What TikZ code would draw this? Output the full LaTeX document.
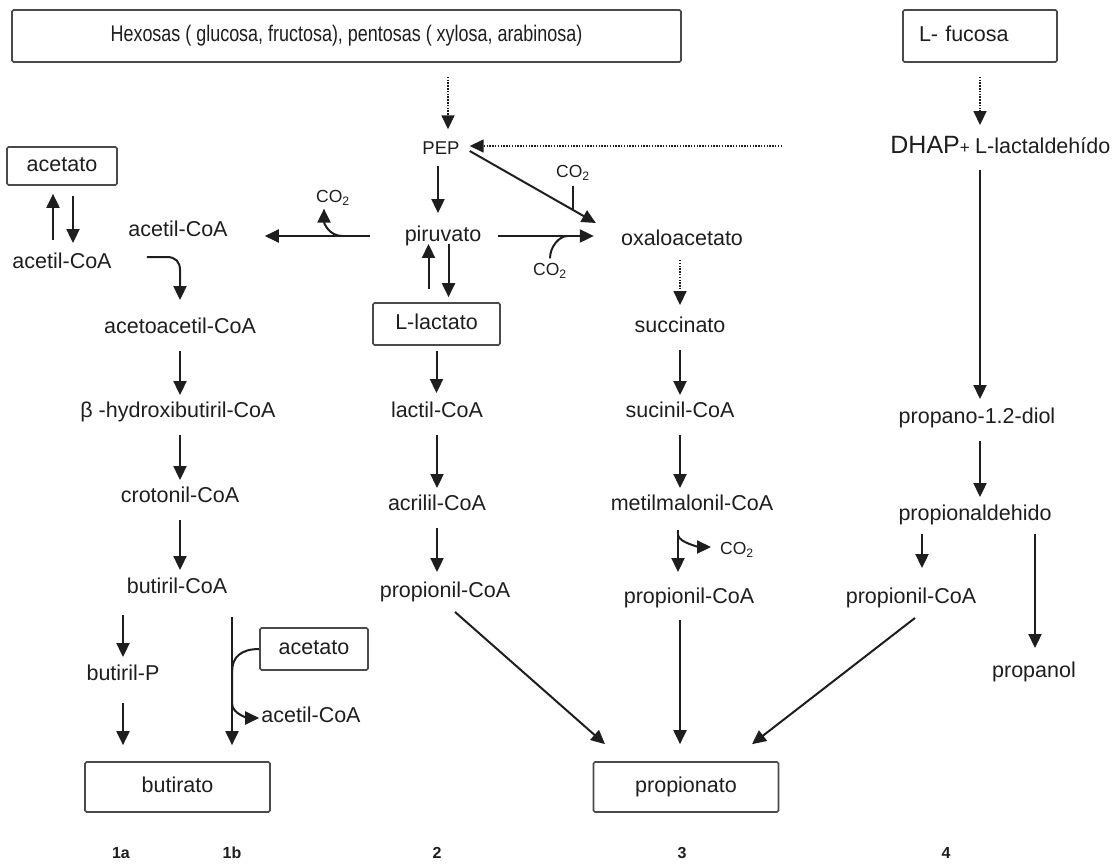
\documentclass[tikz,border=0pt]{standalone}
\usepackage{fontspec}
\setmainfont{Liberation Sans}
\usetikzlibrary{arrows.meta,calc}
\definecolor{ink}{HTML}{1E1E1E}
\definecolor{frame}{HTML}{4A4A4A}
\newcommand\bodyfont{\fontsize{21.5}{25}\selectfont}
\newcommand\cotwo{CO\textsubscript{2}}
\begin{document}
\begin{tikzpicture}[x=1pt,y=-1pt,
  every node/.style={text=ink},
  lbl/.style={font=\bodyfont, inner sep=0pt, text height=15pt, text depth=4.5pt},
  molbox/.style={lbl, draw=frame, line width=1.7pt, rounded corners=1.5pt, fill=white},
  co2/.style={font=\fontsize{17.5}{20}\selectfont, inner sep=0pt},
  arr/.style={draw=ink, line width=2pt, -{Triangle[length=14pt,width=13pt]}},
  dotarr/.style={arr, line width=1.6pt, dash pattern=on 1.5pt off 1.3pt},
  link/.style={draw=ink, line width=2pt},
  colnum/.style={font=\fontsize{16}{18}\selectfont\bfseries, inner sep=0pt}
]
\useasboundingbox (0,0) rectangle (1118,863);

% ---- sources
\node[molbox, minimum width=669pt, minimum height=52pt, font=\fontsize{18.5}{22}\selectfont] (hex) at (346.5,36)
  {\scalebox{0.97}[1.22]{Hexosas ( glucosa, fructosa), pentosas ( xylosa, arabinosa)}};
\node[molbox, minimum width=154pt, minimum height=52pt, text width=122pt, align=left] (fuc) at (980,36) {L- fucosa};

% ---- central intermediates
\node[lbl, font=\fontsize{18.5}{20}\selectfont, text height=13pt, text depth=0pt] (pep) at (441,148) {PEP};
\node[lbl, anchor=west] (lal) at (975,148) {L-lactaldehído};
\node[lbl, anchor=east] (dhap) at ([xshift=-5pt]lal.west) {{\fontsize{25}{30}\selectfont DHAP}{\fontsize{17}{20}\selectfont +}};
\node[lbl] (piru) at (443,236) {piruvato};
\node[lbl] (oxa) at (682,240) {oxaloacetato};

% ---- butyrate route (1a, 1b)
\node[molbox, minimum width=110pt, minimum height=38pt] (ace1) at (62,166) {acetato};
\node[lbl] (acoaL) at (62,263) {acetil-CoA};
\node[lbl] (acoaR) at (178,231) {acetil-CoA};
\node[lbl] (acac) at (180,328) {acetoacetil-CoA};
\node[lbl] (bhb) at (178,412) {β -hydroxibutiril-CoA};
\node[lbl] (crot) at (180,497) {crotonil-CoA};
\node[lbl] (buco) at (177,588) {butiril-CoA};
\node[lbl] (butp) at (123,675) {butiril-P};
\node[molbox, minimum width=108pt, minimum height=42pt] (ace2) at (314,649) {acetato};
\node[lbl] (acoaB) at (311,717) {acetil-CoA};
\node[molbox, minimum width=185pt, minimum height=50pt] (but) at (177.5,787) {butirato};

% ---- acrylate route (2)
\node[molbox, minimum width=127pt, minimum height=42pt] (llac) at (436.5,324) {L-lactato};
\node[lbl] (lacoa) at (437,412) {lactil-CoA};
\node[lbl] (acril) at (437,505) {acrilil-CoA};
\node[lbl] (prop2) at (445,592) {propionil-CoA};

% ---- succinate route (3)
\node[lbl] (succ) at (680,327) {succinato};
\node[lbl] (sucoa) at (680,412) {sucinil-CoA};
\node[lbl] (metm) at (692,505) {metilmalonil-CoA};
\node[lbl] (prop3) at (689,598) {propionil-CoA};
\node[molbox, minimum width=185pt, minimum height=50pt] (pnato) at (686,787) {propionato};

% ---- propanediol route (4)
\node[lbl] (diol) at (977,418) {propano-1.2-diol};
\node[lbl] (pald) at (975,515) {propionaldehido};
\node[lbl] (prop4) at (911,598) {propionil-CoA};
\node[lbl] (pnol) at (1034,672) {propanol};

% ---- CO2
\node[co2] (co2a) at (333,198) {\cotwo};
\node[co2] (co2b) at (573,173) {\cotwo};
\node[co2] (co2c) at (550,271) {\cotwo};
\node[co2] (co2d) at (737,550) {\cotwo};

% ---- route numbers
\node[colnum] (n1a) at (121,853) {1a};
\node[colnum] (n1b) at (232,853) {1b};
\node[colnum] (n2) at (437,853) {2};
\node[colnum] (n3) at (682,853) {3};
\node[colnum] (n4) at (946,853) {4};

% ---- free ends
\coordinate (dsrc) at (782,146);
\coordinate (c1b) at (232,617);

% ---- connectors: top
\draw[dotarr] ($(hex.south -| pep)+(7,14)$) -- ($(pep.north)+(7,-12)$);
\draw[dotarr] ($(fuc.south)+(0,14)$) -- ($(lal.north -| fuc.south)+(0,-13)$);
\draw[dotarr] (dsrc) -- ($(dsrc -| pep.east)+(10,0)$);
\draw[arr] ($(lal.south -| fuc.south)+(0,12)$) -- ($(diol.north -| fuc.south)+(0,-9)$);

% PEP / pyruvate / oxaloacetate
\draw[arr] ($(pep.south)+(-3,11)$) -- ($(piru.north -| pep.south)+(-3,-13)$);
\draw[arr] ($(pep.east)+(10,3)$) -- ($(oxa.west)+(-25,-17)$);
\draw[link] ($(co2b.south)+(0,5)$) -- ++(0,24);
\draw[arr] ($(piru.east)+(17,0)$) -- ($(oxa.west |- piru.east)+(-27,0)$);
\draw[link] ($(co2c.north)+(0,-5)$) .. controls +(0,-12) and +(-8,0) .. ($(piru.east)+(86,0)$);
\draw[arr] ($(piru.west)+(-35,0)$) -- ($(acoaR.east |- piru.west)+(37,0)$);
\draw[arr] ($(piru.west)+(-62,0)$) .. controls +(-14,0) and +(0,14) .. ($(co2a.south)+(-9,3)$);

% route 1
\draw[arr] ($(acoaL.north -| ace1.south)+(-9,-13)$) -- ($(ace1.south)+(-9,8)$);
\draw[arr] ($(ace1.south)+(11,10)$) -- ($(acoaL.north -| ace1.south)+(11,-10)$);
\draw[arr] ($(acoaL.east)+(35,-6)$) -- ++(20,0) .. controls +(9,0) and +(0,-8) .. ($(acac.north)+(0,-48)$) -- ($(acac.north)+(0,-18)$);
\draw[arr] ($(acac.south)+(0,13)$) -- ($(bhb.north -| acac.south)+(0,-7)$);
\draw[arr] ($(bhb.south -| crot)+(0,13)$) -- ($(crot.north)+(0,-7)$);
\draw[arr] ($(crot.south)+(0,13)$) -- ($(buco.north -| crot.south)+(0,-8)$);
\draw[arr] ($(buco.south -| butp)+(0,17)$) -- ($(butp.north)+(0,-8)$);
\draw[arr] ($(butp.south)+(0,18)$) -- ($(but.north -| butp)+(0,-16)$);
\draw[arr] (c1b) -- ($(c1b |- but.north)+(0,-16)$);
\draw[arr] (ace2.west) .. controls +(-18,0) and +(0,-14) .. ($(ace2.west)+(-27,22)$) -- ++(0,33)
  .. controls +(0,10) and +(-10,0) .. ($(acoaB.west)+(-2,1)$);

% route 2
\draw[arr] ($(llac.north)+(-8,-13)$) -- ($(piru.south -| llac.north)+(-8,-2)$);
\draw[arr] ($(piru.south -| llac.north)+(12,-2)$) -- ($(llac.north)+(12,-5)$);
\draw[arr] ($(llac.south)+(0,5)$) -- ($(lacoa.north -| llac.south)+(0,-9)$);
\draw[arr] ($(lacoa.south)+(0,13)$) -- ($(acril.north)+(0,-7)$);
\draw[arr] ($(acril.south)+(0,13)$) -- ($(prop2.north -| acril.south)+(0,-10)$);
\draw[arr] ($(prop2.south)+(10,10)$) -- ($(pnato.north)+(-81,-17)$);

% route 3
\draw[dotarr] ($(oxa.south -| succ)+(0,10)$) -- ($(succ.north)+(0,-12)$);
\draw[arr] ($(succ.south)+(0,13)$) -- ($(sucoa.north)+(0,-7)$);
\draw[arr] ($(sucoa.south)+(0,13)$) -- ($(metm.north -| sucoa.south)+(0,-7)$);
\coordinate (mm) at ($(metm.south)+(-14,15)$);
\draw[arr] (mm) -- ($(prop3.north -| mm)+(0,-16)$);
\draw[arr] ($(mm)+(0,5)$) .. controls +(1,8) and +(-10,0) .. ($(co2d.west)+(-9,-3)$);
\draw[arr] ($(prop3.south)+(-9,12)$) -- ($(pnato.north)+(-6,-17)$);

% route 4
\draw[arr] ($(diol.south -| fuc.south)+(0,13)$) -- ($(pald.north -| fuc.south)+(0,-8)$);
\draw[arr] ($(pald.south -| prop4)+(11,9)$) -- ($(prop4.north)+(11,-20)$);
\draw[arr] ($(pald.south)+(60,9)$) -- ($(pnol.north -| pald.south)+(60,-14)$);
\draw[arr] ($(prop4.south)+(4,10)$) -- ($(pnato.north)+(66,-17)$);
\end{tikzpicture}
\end{document}
